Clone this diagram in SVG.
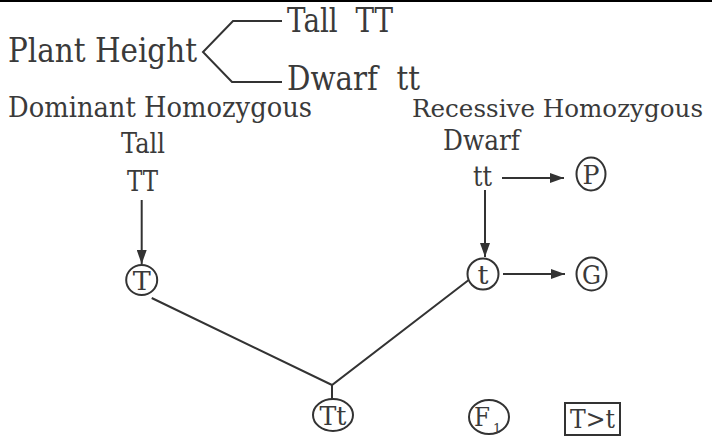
<svg xmlns="http://www.w3.org/2000/svg" width="712" height="439" viewBox="0 0 712 439">
<style>
text{font-family:"DejaVu Serif","Liberation Serif",serif;fill:#3a3a3a}
.big{font-size:34px}
.mid{font-size:27px}
.lbl{font-size:26px;text-anchor:middle}
.ln{stroke:#333;stroke-width:2;fill:none}
.circ{stroke:#333;stroke-width:2;fill:#fff}
</style>
<defs>
<marker id="ah" viewBox="0 0 14 10" refX="14" refY="5" markerWidth="14" markerHeight="10" markerUnits="userSpaceOnUse" orient="auto">
<path d="M0,0 L14,5 L0,10 z" fill="#333"/>
</marker>
</defs>
<rect width="712" height="439" fill="#fff"/>
<line x1="0" y1="1" x2="712" y2="1" stroke="#000" stroke-width="2"/>

<g id="header">
<text class="big" x="8" y="62" textLength="189" lengthAdjust="spacingAndGlyphs">Plant Height</text>
<polyline class="ln" points="282,21 233,21 203,52 232,82 282,82" stroke-width="2.5"/>
<text class="big" x="287" y="32" textLength="106" lengthAdjust="spacingAndGlyphs" xml:space="preserve">Tall  TT</text>
<text class="big" x="287" y="90" textLength="133" lengthAdjust="spacingAndGlyphs" xml:space="preserve">Dwarf  tt</text>
</g>

<g id="dominant">
<text class="mid" x="8" y="117" textLength="304" lengthAdjust="spacingAndGlyphs">Dominant Homozygous</text>
<text class="mid" x="121" y="153" textLength="44" lengthAdjust="spacingAndGlyphs">Tall</text>
<text class="mid" x="127" y="191" textLength="31" lengthAdjust="spacingAndGlyphs">TT</text>
</g>

<g id="recessive">
<text class="mid" style="font-size:25px" x="412" y="117" textLength="291" lengthAdjust="spacingAndGlyphs">Recessive Homozygous</text>
<text class="mid" x="443" y="150" textLength="77" lengthAdjust="spacingAndGlyphs">Dwarf</text>
<text class="mid" x="473" y="186" textLength="19" lengthAdjust="spacingAndGlyphs">tt</text>
</g>

<g id="connectors">
<line class="ln" x1="141.7" y1="200" x2="141.7" y2="264" marker-end="url(#ah)"/>
<line class="ln" x1="485" y1="190" x2="485" y2="257" marker-end="url(#ah)"/>
<line class="ln" x1="502" y1="178" x2="564" y2="178" marker-end="url(#ah)"/>
<line class="ln" x1="503" y1="274" x2="565" y2="274" marker-end="url(#ah)"/>
<polyline class="ln" points="151.7,298 332,385 470,279"/>
<line class="ln" x1="332" y1="385" x2="332" y2="399"/>
</g>

<g id="node-T">
<ellipse class="circ" cx="141.7" cy="280" rx="15.5" ry="15"/>
<text class="lbl" x="141.7" y="290" textLength="18" lengthAdjust="spacingAndGlyphs">T</text>
</g>
<g id="node-t">
<ellipse class="circ" cx="483" cy="274" rx="15.5" ry="15.5"/>
<text class="lbl" x="483" y="284" textLength="11" lengthAdjust="spacingAndGlyphs">t</text>
</g>
<g id="node-P">
<ellipse class="circ" cx="591" cy="174" rx="14.5" ry="16.5"/>
<text class="lbl" x="591" y="184" textLength="17" lengthAdjust="spacingAndGlyphs">P</text>
</g>
<g id="node-G">
<ellipse class="circ" cx="591.5" cy="274" rx="15" ry="16.5"/>
<text class="lbl" x="591.5" y="284" textLength="19" lengthAdjust="spacingAndGlyphs">G</text>
</g>
<g id="node-Tt">
<ellipse class="circ" cx="333" cy="415" rx="20" ry="16"/>
<text class="lbl" x="333" y="425" textLength="27" lengthAdjust="spacingAndGlyphs">Tt</text>
</g>
<g id="node-F1">
<ellipse class="circ" cx="489" cy="417" rx="20" ry="17"/>
<text style="font-size:26px" x="474" y="426" textLength="16" lengthAdjust="spacingAndGlyphs">F</text>
<text style="font-size:13px" x="493" y="433">1</text>
</g>
<g id="node-rule">
<rect x="565" y="403" width="55" height="32" fill="#fff" stroke="#333" stroke-width="2"/>
<text class="lbl" x="592.5" y="428" textLength="45" lengthAdjust="spacingAndGlyphs">T&gt;t</text>
</g>
</svg>
